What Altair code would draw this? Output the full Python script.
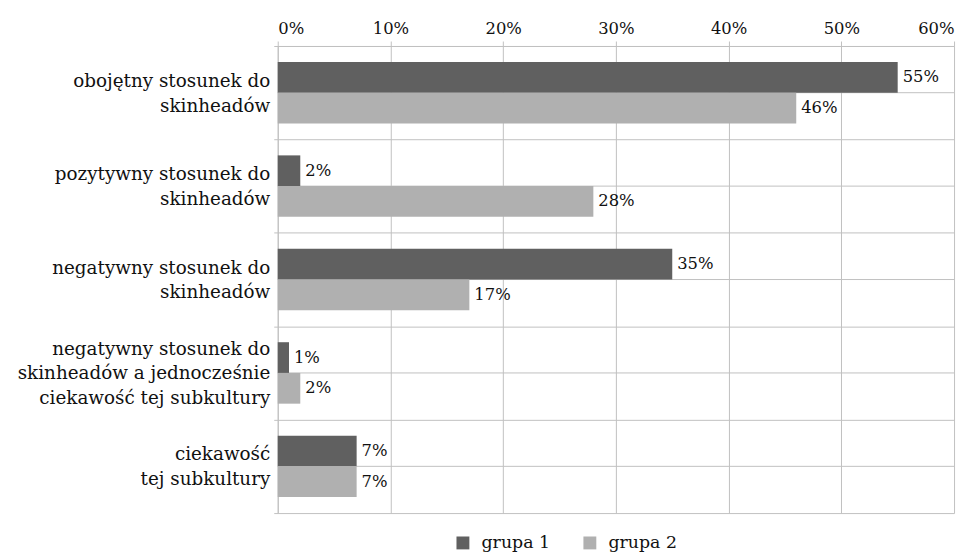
import altair as alt
import pandas as pd

categories = [
    "obojętny stosunek do\nskinheadów",
    "pozytywny stosunek do\nskinheadów",
    "negatywny stosunek do\nskinheadów",
    "negatywny stosunek do\nskinheadów a  jednocześnie\nciekawość tej subkultury",
    "ciekawość\ntej subkultury",
]
groups = ["grupa 1", "grupa 2"]
grupa1 = [55, 2, 35, 1, 7]
grupa2 = [46, 28, 17, 2, 7]
x_ticks = [0, 0.1, 0.2, 0.3, 0.4, 0.5, 0.6]
colors = ["#606060", "#b0b0b0"]

rows = []
for c, a, b in zip(categories, grupa1, grupa2):
    rows.append({"cat": c, "group": groups[0], "value": a / 100})
    rows.append({"cat": c, "group": groups[1], "value": b / 100})
df = pd.DataFrame(rows)
cat_df = pd.DataFrame({"cat": categories})

FONT = "DejaVu Serif"
FS = 16.5
CAT_FS = 18.5
LH = 25
GRID = "#c0c0c0"
TXT = "#111111"

y_enc = alt.Y(
    "cat:N",
    sort=categories,
    scale=alt.Scale(paddingInner=0, paddingOuter=0),
    axis=alt.Axis(
        title=None,
        tickBand="extent",
        grid=True,
        gridColor=GRID,
        domainColor=GRID,
        tickColor=GRID,
        tickSize=4,
        labelPadding=4,
        labelFont=FONT,
        labelFontSize=CAT_FS,
        labelColor=TXT,
        labelLineHeight=LH,
        labelExpr="split(datum.label, '\\n')",
        labelOffset={
            "condition": {"test": "indexof(datum.label, 'jednocze') >= 0", "value": -LH},
            "value": -LH / 2,
        },
        labelLimit=400,
    ),
)
x_enc = alt.X(
    "value:Q",
    scale=alt.Scale(domain=[0, 0.6], nice=False),
    axis=alt.Axis(
        orient="top",
        title=None,
        values=x_ticks,
        format=".0%",
        grid=True,
        gridColor=GRID,
        domainColor=GRID,
        tickColor=GRID,
        tickSize=5,
        labelPadding=5,
        labelFont=FONT,
        labelFontSize=FS,
        labelColor=TXT,
    ),
)

bars = alt.Chart(df).mark_bar().encode(
    y=y_enc,
    yOffset=alt.YOffset("group:N", sort=groups, scale=alt.Scale(paddingOuter=0.52, paddingInner=0)),
    x=x_enc,
    color=alt.Color(
        "group:N",
        sort=groups,
        scale=alt.Scale(domain=groups, range=colors),
        legend=alt.Legend(
            title=None,
            orient="none",
            legendX=178,
            legendY=492,
            direction="horizontal",
            symbolType="square",
            symbolSize=169,
            symbolStrokeWidth=0,
            labelFont=FONT,
            labelFontSize=17.5,
            labelColor=TXT,
            labelOffset=10,
            columnPadding=31,
        ),
    ),
)

labels = alt.Chart(df).mark_text(
    align="left", baseline="middle", dx=5, font=FONT, fontSize=FS, color=TXT
).encode(
    y=alt.Y("cat:N", sort=categories),
    yOffset=alt.YOffset("group:N", sort=groups),
    x="value:Q",
    text=alt.Text("value:Q", format=".0%"),
)

mid = alt.Chart(cat_df).mark_rule(color=GRID, strokeWidth=1).encode(
    y=alt.Y("cat:N", sort=categories),
    x=alt.datum(0),
    x2=alt.datum(0.6),
)

chart = (
    alt.layer(mid, bars, labels)
    .properties(
        width=682,
        height=471,
        autosize=alt.AutoSizeParams(type="none"),
        padding={"left": 272, "top": 36, "right": 6, "bottom": 43},
    )
    .configure_view(stroke=None)
)

chart.save("out.html", embed_options={"renderer": "svg", "actions": False})
